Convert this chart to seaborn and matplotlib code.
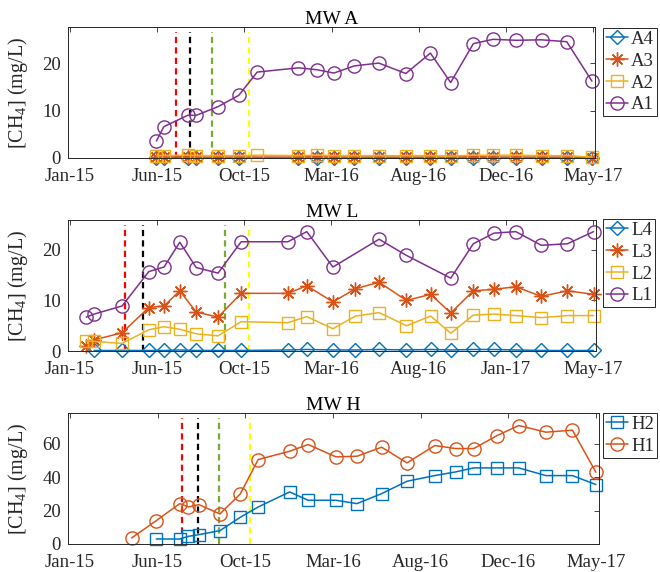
import numpy as np
import pandas as pd
import matplotlib
matplotlib.use("Agg")
import matplotlib.pyplot as plt
import seaborn as sns

nan = np.nan

# ---- MW A -------------------------------------------------------------
dates_A = ['2015-06-05', '2015-06-17', '2015-07-26', '2015-08-09', '2015-09-13',
           '2015-10-17', '2015-11-16', '2016-01-22', '2016-02-21', '2016-03-20',
           '2016-04-22', '2016-06-01', '2016-07-15', '2016-08-24', '2016-09-26',
           '2016-11-02', '2016-12-04', '2017-01-11', '2017-02-21', '2017-04-03',
           '2017-05-14']
A1 = [3.6, 6.6, 9.0, 9.0, 10.8, 13.2, 18.1, 19.0, 18.6, 17.9, 19.4,
      20.0, 17.8, 22.1, 15.9, 24.1, 25.0, 24.8, 24.9, 24.5, 16.2]
A2 = [0.5, 0.5, 0.6, 0.5, 0.5, 0.5, 0.6, 0.5, 0.6, 0.5, 0.5,
      0.5, 0.5, 0.5, 0.4, 0.6, 0.6, 0.6, 0.5, 0.5, 0.2]
A3 = [0.2, 0.2, 0.3, 0.2, 0.2, 0.2, nan, 0.2, 0.3, 0.2, 0.2,
      0.2, 0.2, 0.2, 0.2, 0.3, 0.2, 0.2, 0.2, 0.2, 0.1]
A4 = [0.1, 0.1, 0.1, 0.1, 0.1, 0.1, nan, 0.1, 0.1, 0.1, 0.1,
      0.1, 0.1, 0.1, 0.1, 0.1, 0.1, 0.1, 0.1, 0.1, 0.1]
events_A = ['2015-07-07', '2015-07-29', '2015-09-03', '2015-11-02']

# ---- MW L -------------------------------------------------------------
dates_L = ['2015-02-12', '2015-02-25', '2015-04-12', '2015-05-26', '2015-06-20',
           '2015-07-16', '2015-08-12', '2015-09-17', '2015-10-25', '2016-01-10',
           '2016-02-10', '2016-03-24', '2016-04-30', '2016-06-08', '2016-07-23',
           '2016-09-01', '2016-10-04', '2016-11-10', '2016-12-14', '2017-01-19',
           '2017-03-02', '2017-04-14', '2017-05-27']
L1 = [6.7, 7.3, 8.9, 15.7, 16.6, 21.5, 16.5, 15.4, 21.6, 21.6, 23.6, 16.6,
      nan, 22.1, 18.9, nan, 14.4, 21.2, 23.3, 23.6, 20.9, 21.2, 23.6]
L2 = [2.0, 1.9, 1.5, 4.2, 4.8, 4.3, 3.4, 3.0, 5.8, 5.6, 6.8, 4.4,
      6.9, 7.6, 5.0, 6.9, 3.5, 7.1, 7.3, 7.0, 6.6, 7.0, 7.0]
L3 = [0.9, 2.2, 3.6, 8.6, 8.9, 11.9, 7.7, 6.7, 11.4, 11.4, 12.9, 9.7,
      12.3, 13.6, 10.0, 11.2, 7.5, 11.9, 12.2, 12.7, 10.8, 11.9, 11.2]
L4 = [nan, 0.1, 0.1, 0.1, 0.1, 0.2, 0.1, 0.1, 0.1, 0.2, 0.3, 0.2,
      0.2, 0.3, 0.2, 0.3, 0.2, 0.3, 0.3, 0.2, 0.1, 0.1, 0.1]
events_L = ['2015-04-16', '2015-05-17', '2015-09-28', '2015-11-07']

# ---- MW H -------------------------------------------------------------
dates_H = ['2015-04-25', '2015-06-04', '2015-07-12', '2015-07-26', '2015-08-12',
           '2015-09-15', '2015-10-18', '2015-11-16', '2016-01-06', '2016-02-05',
           '2016-03-21', '2016-04-24', '2016-06-03', '2016-07-14', '2016-08-28',
           '2016-10-01', '2016-10-30', '2016-12-07', '2017-01-11', '2017-02-24',
           '2017-04-08', '2017-05-16']
H1 = [3.6, 14.0, 24.2, 22.2, 23.6, 18.0, 30.0, 50.6, 55.6, 59.6, 52.2,
      52.6, 58.0, 48.6, 59.0, 57.2, 57.2, 65.0, 71.0, 67.0, 68.2, 43.0]
H2 = [nan, 3.0, 3.0, 4.6, 5.6, 8.0, 16.0, 22.2, 31.2, 26.2, 26.2,
      24.2, 30.2, 37.6, 41.0, 43.2, 45.6, 45.6, 45.6, 41.0, 41.0, 35.6]
events_H = ['2015-07-16', '2015-08-10', '2015-09-13', '2015-11-03']

ticks_A = ['Jan-15', 'Jun-15', 'Oct-15', 'Mar-16', 'Aug-16', 'Dec-16', 'May-17']
ticks_L = ['Jan-15', 'Jun-15', 'Oct-15', 'Mar-16', 'Aug-16', 'Jan-17', 'May-17']
ticks_H = ['Jan-15', 'Jun-15', 'Oct-15', 'Mar-16', 'Aug-16', 'Dec-16', 'May-17']

blue, orange, yellow, purple = '#0072BD', '#D95319', '#EDB120', '#7E2F8E'
event_colors = ['#FF0000', 'black', '#77AC30', '#FFFF00']
axcol = '#262626'

sns.set_style("white")
plt.rcParams['font.family'] = ['Liberation Serif', 'DejaVu Serif']
plt.rcParams['mathtext.fontset'] = 'custom'
plt.rcParams['mathtext.rm'] = 'Liberation Serif'
plt.rcParams['mathtext.it'] = 'Liberation Serif:italic'

fig = plt.figure(figsize=(6.6, 5.72), dpi=100)


def panel(rect, title, dates, series, labels, colors, markers, msizes,
          events, ymax, yticks, tick_lo, tick_hi, ticklabels, xlim, leg_top):
    ax = fig.add_axes(rect)
    x = pd.to_datetime(dates)
    for vals, lab, c, m, ms in zip(series, labels, colors, markers, msizes):
        sns.lineplot(x=x, y=vals, ax=ax, color=c, marker=m, markersize=ms,
                     markerfacecolor='none', markeredgecolor=c,
                     markeredgewidth=1.0, linewidth=1.1, label=lab,
                     clip_on=False, legend=False)
    for d, c in zip(pd.to_datetime(events), event_colors):
        ax.axvline(d, ymin=0, ymax=0.965, color=c, lw=1.6,
                   linestyle=(0, (2.8, 1.9)), zorder=1)
    tpos = pd.date_range(tick_lo, tick_hi, periods=len(ticklabels))
    ax.set_xticks(tpos)
    ax.set_xticklabels(ticklabels)
    ax.set_xlim(pd.Timestamp(xlim[0]), pd.Timestamp(xlim[1]))
    ax.set_ylim(0, ymax)
    ax.set_yticks(yticks)
    ax.set_xlabel('')
    ax.set_ylabel('[CH$_\\mathrm{4}$] (mg/L)', fontsize=14.5, labelpad=9,
                  color=axcol)
    ax.set_title(title, fontsize=14, pad=2, color='black')
    ax.tick_params(direction='in', top=True, right=True, length=3.8,
                   width=0.6, colors=axcol, labelsize=13.5)
    ax.tick_params(axis='x', pad=7)
    ax.tick_params(axis='y', pad=5)
    for s in ax.spines.values():
        s.set_color(axcol)
        s.set_linewidth(0.7)
    leg = ax.legend(ax.get_lines()[:len(labels)], labels, loc='upper left',
                    bbox_to_anchor=(603 / 660, 1 - leg_top / 572),
                    bbox_transform=fig.transFigure, fontsize=13.5,
                    frameon=True, fancybox=False, framealpha=1,
                    edgecolor=axcol, handlelength=1.2, handletextpad=0.15,
                    borderpad=0.15, labelspacing=0.25, borderaxespad=0)
    leg.get_frame().set_linewidth(0.7)
    return ax


panel([68 / 660, 1 - 158 / 572, 527 / 660, 131 / 572], 'MW A', dates_A,
      [A4, A3, A2, A1], ['A4', 'A3', 'A2', 'A1'],
      [blue, orange, yellow, purple], ['D', (8, 2, 0), 's', 'o'],
      [7, 10, 8.5, 9.5], events_A, 27.6, [0, 10, 20],
      '2015-01-15', '2017-05-16', ticks_A, ('2015-01-12', '2017-05-19'), 28)

panel([68 / 660, 1 - 351 / 572, 528 / 660, 131 / 572], 'MW L', dates_L,
      [L4, L3, L2, L1], ['L4', 'L3', 'L2', 'L1'],
      [blue, orange, yellow, purple], ['D', (8, 2, 0), 's', 'o'],
      [7, 10, 8.5, 9.5], events_L, 25.9, [0, 10, 20],
      '2015-01-16', '2017-05-26', ticks_L, ('2015-01-13', '2017-05-31'), 219)

panel([68 / 660, 1 - 544 / 572, 531 / 660, 131 / 572], 'MW H', dates_H,
      [H2, H1], ['H2', 'H1'], [blue, orange], ['s', 'o'], [8.5, 9.5],
      events_H, 78.5, [0, 20, 40, 60],
      '2015-01-15', '2017-05-16', ticks_H, ('2015-01-12', '2017-05-21'), 413)

fig.savefig('out.png', dpi=100)
